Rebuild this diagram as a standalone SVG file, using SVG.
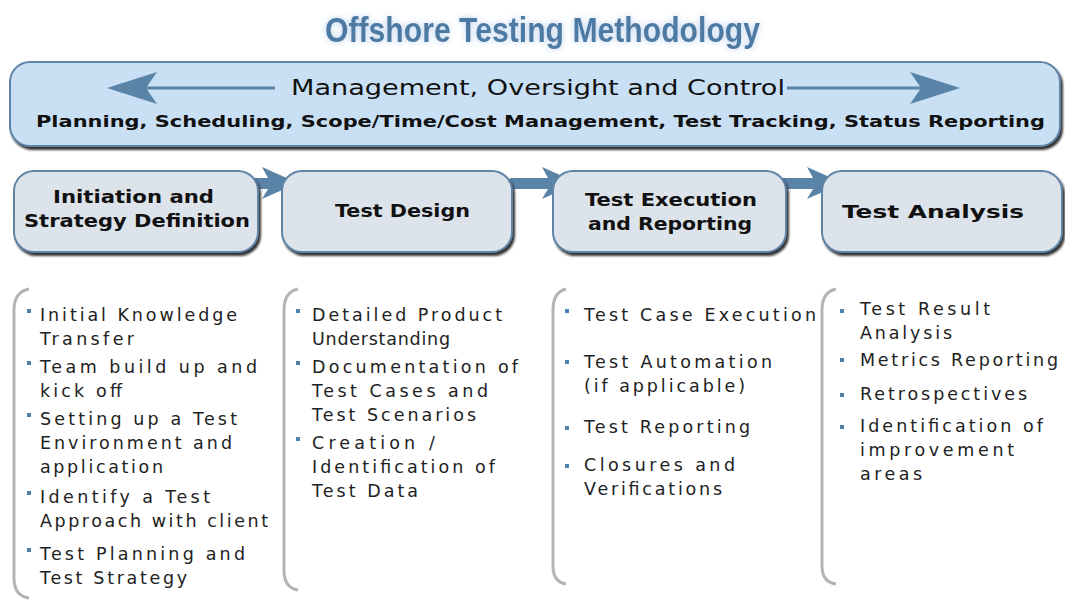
<svg xmlns="http://www.w3.org/2000/svg" width="1065" height="601" viewBox="0 0 1065 601">
<style>
.title{font-family:"Liberation Sans Narrow","Liberation Sans",Arial,sans-serif;font-weight:bold;font-size:35px;fill:#4d7aa3}
.mg{font-family:"DejaVu Sans",Verdana,sans-serif;font-size:21px;fill:#111}
.pl{font-family:"DejaVu Sans",Verdana,sans-serif;font-size:16.5px;font-weight:bold;fill:#111}
.ph{font-family:"DejaVu Sans",Verdana,sans-serif;font-size:17px;font-weight:bold;fill:#111}
.bl{font-family:"DejaVu Sans",Verdana,sans-serif;font-size:17.5px;fill:#222}
.box{stroke:#5f84a6;stroke-width:2}
.brk{fill:none;stroke:#b4b4b4;stroke-width:3}
.bul{fill:#4f7fab}
.arr{fill:#5a83a8}
</style>
<defs>
<filter id="glow" x="-10%" y="-30%" width="120%" height="160%">
<feGaussianBlur in="SourceAlpha" stdDeviation="3" result="b"/>
<feFlood flood-color="#b8d0ee" result="c"/>
<feComposite in="c" in2="b" operator="in" result="g"/>
<feMerge><feMergeNode in="g"/><feMergeNode in="SourceGraphic"/></feMerge>
</filter>
<filter id="sh" x="-5%" y="-10%" width="110%" height="130%">
<feGaussianBlur in="SourceAlpha" stdDeviation="1.2"/>
<feOffset dx="2" dy="3" result="o"/>
<feFlood flood-color="#333"/>
<feComposite in2="o" operator="in"/>
<feMerge><feMergeNode/><feMergeNode in="SourceGraphic"/></feMerge>
</filter>
</defs>
<rect width="1065" height="601" fill="#fff"/>
<text class="title" x="325" y="42" textLength="435" lengthAdjust="spacingAndGlyphs" filter="url(#glow)">Offshore Testing Methodology</text>

<g id="management">
<rect class="box" x="10" y="62" width="1050" height="84" rx="20" fill="#c9e0f4" filter="url(#sh)"/>
<path class="arr" d="M107,88 L157,72 L147,86.5 L275,86.5 L275,89.5 L147,89.5 L157,104 Z"/>
<path class="arr" d="M960,88 L910,72 L920,86.5 L787,86.5 L787,89.5 L920,89.5 L910,104 Z"/>
<text class="mg" x="291" y="95" textLength="494" lengthAdjust="spacingAndGlyphs">Management, Oversight and Control</text>
<text class="pl" x="36" y="127" textLength="1009" lengthAdjust="spacingAndGlyphs">Planning, Scheduling, Scope/Time/Cost Management, Test Tracking, Status Reporting</text>
</g>

<g id="connectors">
<path class="arr" d="M233,178 L268,178 L262,167 L298,183 L262,199 L268,189 L233,189 Z"/>
<path class="arr" d="M510,178 L548,178 L542,167 L578,183 L542,199 L548,189 L510,189 Z"/>
<path class="arr" d="M777,178 L813,178 L807,167 L843,183 L807,199 L813,189 L777,189 Z"/>
</g>

<g id="phase1">
<rect class="box" x="14" y="171" width="244" height="81" rx="20" fill="#dde3ea" filter="url(#sh)"/>
<text class="ph" x="53" y="203" textLength="161" lengthAdjust="spacingAndGlyphs">Initiation and</text>
<text class="ph" x="24" y="227" textLength="226" lengthAdjust="spacingAndGlyphs">Strategy Definition</text>
</g>
<g id="phase2">
<rect class="box" x="282" y="171" width="230" height="81" rx="20" fill="#dde3ea" filter="url(#sh)"/>
<text class="ph" x="335" y="217" textLength="135" lengthAdjust="spacingAndGlyphs">Test Design</text>
</g>
<g id="phase3">
<rect class="box" x="553" y="171" width="233" height="81" rx="20" fill="#dde3ea" filter="url(#sh)"/>
<text class="ph" x="585" y="206" textLength="172" lengthAdjust="spacingAndGlyphs">Test Execution</text>
<text class="ph" x="588" y="230" textLength="164" lengthAdjust="spacingAndGlyphs">and Reporting</text>
</g>
<g id="phase4">
<rect class="box" x="822" y="171" width="240" height="81" rx="20" fill="#dde3ea" filter="url(#sh)"/>
<text class="ph" x="842" y="218" textLength="182" lengthAdjust="spacingAndGlyphs">Test Analysis</text>
</g>

<g id="list1">
<path class="brk" d="M29,289 Q14,292 14,310 L14,578 Q14,596 29,598"/>
<rect class="bul" x="27" y="309" width="4" height="4"/>
<rect class="bul" x="27" y="361" width="4" height="4"/>
<rect class="bul" x="27" y="413" width="4" height="4"/>
<rect class="bul" x="27" y="491" width="4" height="4"/>
<rect class="bul" x="27" y="548" width="4" height="4"/>
<text class="bl" x="40" y="321" textLength="197">Initial Knowledge</text>
<text class="bl" x="40" y="345" textLength="94">Transfer</text>
<text class="bl" x="40" y="373" textLength="217">Team build up and</text>
<text class="bl" x="40" y="397" textLength="82">kick off</text>
<text class="bl" x="40" y="425" textLength="197">Setting up a Test</text>
<text class="bl" x="40" y="449" textLength="192">Environment and</text>
<text class="bl" x="40" y="473" textLength="123">application</text>
<text class="bl" x="40" y="503" textLength="170">Identify a Test</text>
<text class="bl" x="40" y="527" textLength="228">Approach with client</text>
<text class="bl" x="40" y="560" textLength="205">Test Planning and</text>
<text class="bl" x="40" y="584" textLength="147">Test Strategy</text>
</g>

<g id="list2">
<path class="brk" d="M298,289 Q284,292 284,310 L284,570 Q284,588 298,590"/>
<rect class="bul" x="296" y="309" width="4" height="4"/>
<rect class="bul" x="296" y="361" width="4" height="4"/>
<rect class="bul" x="296" y="437" width="4" height="4"/>
<text class="bl" x="312" y="321" textLength="190">Detailed Product</text>
<text class="bl" x="312" y="345" textLength="138">Understanding</text>
<text class="bl" x="312" y="373" textLength="206">Documentation of</text>
<text class="bl" x="312" y="397" textLength="176">Test Cases and</text>
<text class="bl" x="312" y="421" textLength="164">Test Scenarios</text>
<text class="bl" x="312" y="449" textLength="123">Creation /</text>
<text class="bl" x="312" y="473" textLength="183">Identification of</text>
<text class="bl" x="312" y="497" textLength="106">Test Data</text>
</g>

<g id="list3">
<path class="brk" d="M566,289 Q553,292 553,310 L553,566 Q553,582 566,584"/>
<rect class="bul" x="565" y="309" width="4" height="4"/>
<rect class="bul" x="565" y="360" width="4" height="4"/>
<rect class="bul" x="565" y="426" width="4" height="4"/>
<rect class="bul" x="565" y="464" width="4" height="4"/>
<text class="bl" x="584" y="321" textLength="232">Test Case Execution</text>
<text class="bl" x="584" y="368" textLength="188">Test Automation</text>
<text class="bl" x="584" y="392" textLength="161">(if applicable)</text>
<text class="bl" x="584" y="433" textLength="166">Test Reporting</text>
<text class="bl" x="584" y="471" textLength="151">Closures and</text>
<text class="bl" x="584" y="495" textLength="138">Verifications</text>
</g>

<g id="list4">
<path class="brk" d="M836,289 Q822,292 822,310 L822,566 Q822,582 836,584"/>
<rect class="bul" x="840" y="309" width="4" height="4"/>
<rect class="bul" x="840" y="358" width="4" height="4"/>
<rect class="bul" x="840" y="393" width="4" height="4"/>
<rect class="bul" x="840" y="425" width="4" height="4"/>
<text class="bl" x="860" y="315" textLength="130">Test Result</text>
<text class="bl" x="860" y="339" textLength="92">Analysis</text>
<text class="bl" x="860" y="366" textLength="198">Metrics Reporting</text>
<text class="bl" x="860" y="400" textLength="167">Retrospectives</text>
<text class="bl" x="860" y="432" textLength="183">Identification of</text>
<text class="bl" x="860" y="456" textLength="154">improvement</text>
<text class="bl" x="860" y="480" textLength="62">areas</text>
</g>
</svg>
